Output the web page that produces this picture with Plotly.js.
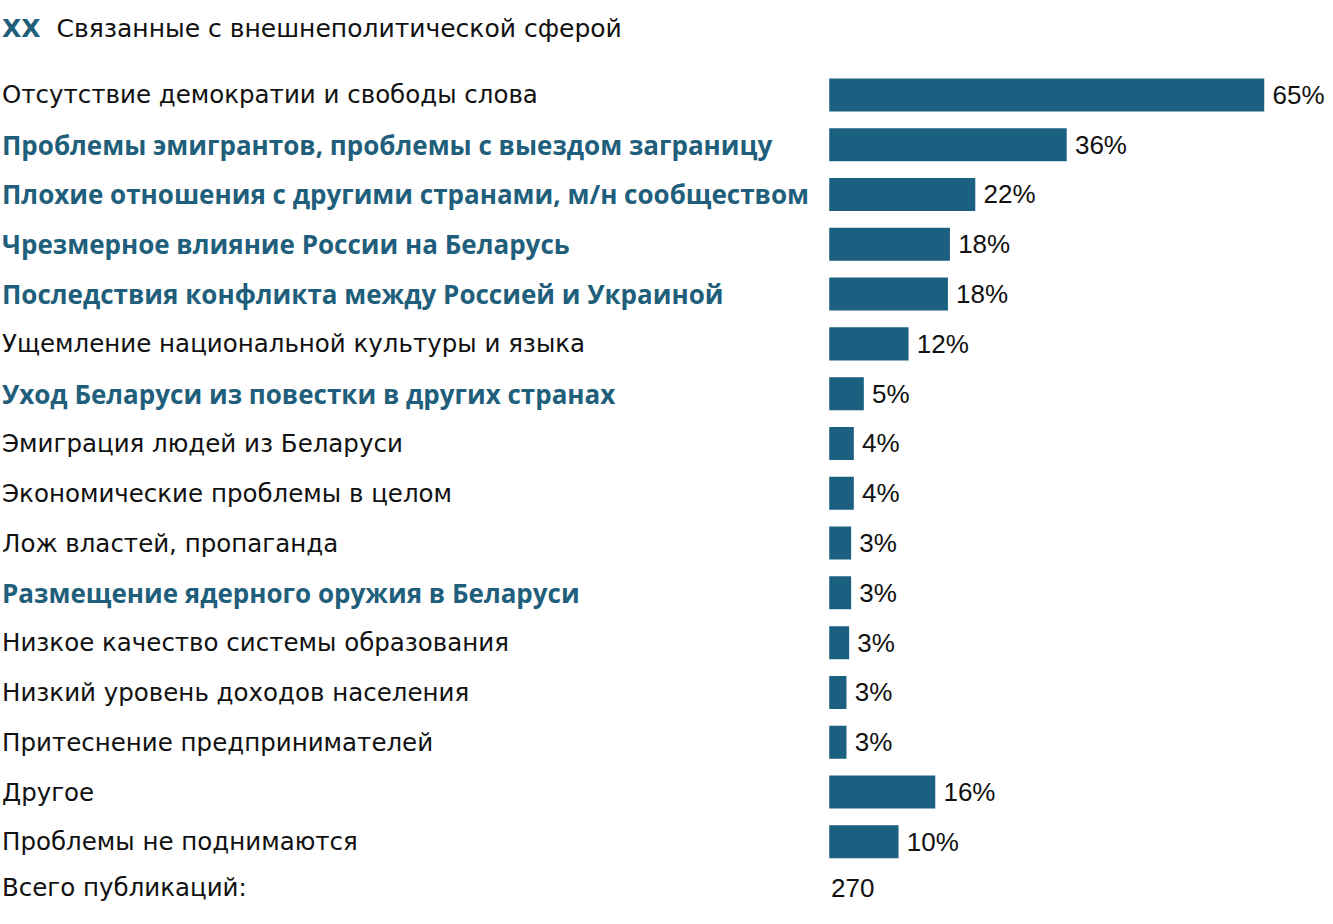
<!DOCTYPE html>
<html>
<head>
<meta charset="utf-8">
<script src="https://cdn.plot.ly/plotly-3.0.1.min.js"></script>
<style>
  html, body { margin: 0; padding: 0; background: #fff; }
  #chart { width: 1333px; height: 924px; }
</style>
</head>
<body>
<div id="chart"></div>
<script>
// problems, top to bottom
const categories = [
  "Отсутствие демократии и свободы слова",
  "Проблемы эмигрантов, проблемы с выездом заграницу",
  "Плохие отношения с другими странами, м/н сообществом",
  "Чрезмерное влияние России на Беларусь",
  "Последствия конфликта между Россией и Украиной",
  "Ущемление национальной культуры и языка",
  "Уход Беларуси из повестки в других странах",
  "Эмиграция людей из Беларуси",
  "Экономические проблемы в целом",
  "Лож властей, пропаганда",
  "Размещение ядерного оружия в Беларуси",
  "Низкое качество системы образования",
  "Низкий уровень доходов населения",
  "Притеснение предпринимателей",
  "Другое",
  "Проблемы не поднимаются",
];
// share of publications, %
const values = [65.2, 35.6, 21.9, 18.1, 17.8, 11.9, 5.2, 3.7, 3.7, 3.3, 3.3, 3.0, 2.6, 2.6, 15.9, 10.4];
const valueLabels = ["65%", "36%", "22%", "18%", "18%", "12%", "5%", "4%", "4%", "3%", "3%", "3%", "3%", "3%", "16%", "10%"];
// highlighted (foreign policy) rows
const highlighted = [0, 1, 1, 1, 1, 0, 1, 0, 0, 0, 1, 0, 0, 0, 0, 0];
const totalLabel = "Всего публикаций:";
const totalValue = "270";

const TEAL = "#1b6080";
const TEXT_TEAL = "#1f5f7b";
const rows = categories.map((_, i) => i);

const trace = {
  type: "bar",
  orientation: "h",
  x: values,
  y: rows,
  width: 0.663,
  marker: { color: TEAL },
  text: valueLabels.map((t) => "\u2009" + t),
  textposition: "outside",
  cliponaxis: false,
  textfont: { family: "Liberation Sans, Arial, sans-serif", size: 26, color: "#111" },
  hoverinfo: "skip",
};

const annotations = categories.map((c, i) => ({
  xref: "paper",
  yref: "y",
  x: 0,
  y: i,
  xanchor: "left",
  yanchor: "middle",
  showarrow: false,
  text: highlighted[i] ? "<b>" + c + "</b>" : c,
  font: {
    family: highlighted[i] ? "Open Sans, sans-serif" : "DejaVu Sans, sans-serif",
    size: highlighted[i] ? 26 : 24.5,
    color: highlighted[i] ? TEXT_TEAL : "#111",
  },
}));

annotations.push({
  xref: "paper", yref: "y", x: 0, y: 15.92,
  xanchor: "left", yanchor: "middle", showarrow: false,
  text: totalLabel,
  font: { family: "DejaVu Sans, sans-serif", size: 24.5, color: "#111" },
});
annotations.push({
  xref: "x", yref: "y", x: 0, y: 15.92,
  xanchor: "left", yanchor: "middle", showarrow: false,
  text: totalValue,
  font: { family: "Liberation Sans, Arial, sans-serif", size: 26, color: "#111" },
});

const layout = {
  width: 1333,
  height: 924,
  margin: { l: 0, r: 0, t: 70, b: 0 },
  paper_bgcolor: "#fff",
  plot_bgcolor: "#fff",
  showlegend: false,
  title: {
    text: "<b><span style='color:" + TEXT_TEAL + "'>XX</span></b>  Связанные с внешнеполитической сферой",
    x: 0.0015,
    xanchor: "left",
    y: 1 - 28 / 924,
    yanchor: "middle",
    font: { family: "DejaVu Sans, sans-serif", size: 25, color: "#111" },
  },
  xaxis: {
    domain: [0.622, 1],
    range: [0, 75.5],
    visible: false,
    fixedrange: true,
  },
  yaxis: {
    range: [16.65, -0.5],
    visible: false,
    fixedrange: true,
  },
  annotations: annotations,
};

Plotly.newPlot("chart", [trace], layout, { displayModeBar: false, staticPlot: true });
</script>
</body>
</html>
